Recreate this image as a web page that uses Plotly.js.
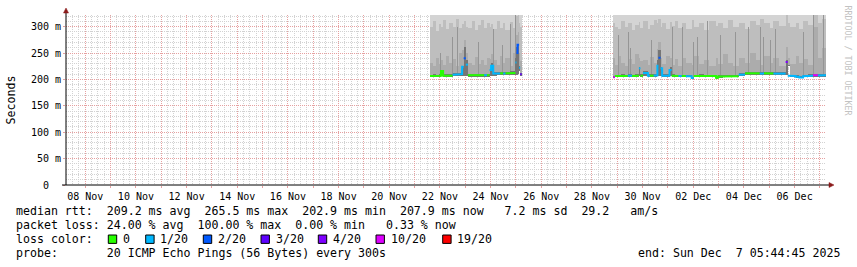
<!DOCTYPE html>
<html><head><meta charset="utf-8">
<script src="https://cdn.plot.ly/plotly-3.0.1.min.js"></script>
<style>html,body{margin:0;padding:0;background:#fff;}#chart{width:857px;height:267px;}</style>
</head><body><div id="chart"></div>
<script>
// ---------------- DATA ----------------
const rangeStart = '2025-11-07 05:44:45';
const rangeEnd   = '2025-12-07 05:44:45';

// segment 1 : step start times (last entry = end of last step)
const seg1Time = ['2025-11-21 14:36','2025-11-21 17:00','2025-11-21 20:00','2025-11-21 23:00','2025-11-22 01:00','2025-11-22 03:00','2025-11-22 06:00','2025-11-22 09:00','2025-11-22 12:00','2025-11-22 15:00','2025-11-22 18:00','2025-11-22 21:00','2025-11-22 22:30','2025-11-23 00:30','2025-11-23 02:30','2025-11-23 06:00','2025-11-23 09:00','2025-11-23 12:00','2025-11-23 15:00','2025-11-23 18:00','2025-11-23 20:30','2025-11-23 23:00','2025-11-24 00:30','2025-11-24 02:30','2025-11-24 06:00','2025-11-24 09:00','2025-11-24 12:00','2025-11-24 14:00','2025-11-24 18:00','2025-11-24 21:00','2025-11-24 23:30','2025-11-25 00:30','2025-11-25 01:30','2025-11-25 03:00','2025-11-25 04:00','2025-11-25 05:30'];
const seg1Med  = [206.5,207,206.5,207,216,207,207.5,207,209,209.5,210,224,240,228,208,207.5,208,207.5,208,208,208,218,226,211,211,211.5,211,211.5,212,212,232,250,265.5,222,210];
const seg1Loss = [0,0,0,0,0,0,0,0,1,1,1,1,2,1,0,0,0,0,0,1,0,1,1,1,1,0,1,0,0,0,1,2,2,1,3];
const seg1Lo   = [204,205,204,205,206,205,205,205,206,206,207,207,207,207,205,205,205,205,205,205,205,207,207,207,208,208,208,208,208,208,208,208,210,215,207];
const seg1D1   = [209,210,209,210,218,210,210,210,212,212,213,226,262,236,211,210,211,210,211,211,211,220,231,214,214,214,214,214,215,215,240,262,268,226,212];
const seg1D2   = [232,226,240,230,236,228,245,232,238,226,250,255,275,250,232,228,242,230,236,228,240,238,248,236,228,245,232,240,226,250,270,285,290,250,235];
const seg1D3   = [300,310,292,305,300,312,296,306,300,314,298,305,310,300,298,310,294,304,312,298,306,300,305,296,310,298,306,294,308,298,314,320,322,306,300];

// segment 2
const seg2Time = ['2025-11-28 20:15','2025-11-28 21:45','2025-11-29 01:00','2025-11-29 04:00','2025-11-29 07:00','2025-11-29 10:00','2025-11-29 14:00','2025-11-29 17:00','2025-11-29 20:30','2025-11-29 22:00','2025-11-30 00:30','2025-11-30 05:00','2025-11-30 07:00','2025-11-30 10:30','2025-11-30 14:00','2025-11-30 15:00','2025-11-30 17:00','2025-11-30 18:30','2025-11-30 22:00','2025-12-01 01:30','2025-12-01 03:30','2025-12-01 07:00','2025-12-01 10:00','2025-12-01 13:00','2025-12-01 17:00','2025-12-01 22:30','2025-12-02 00:30','2025-12-02 05:00','2025-12-02 10:00','2025-12-02 15:00','2025-12-02 21:30','2025-12-02 23:30','2025-12-03 04:00','2025-12-03 09:00','2025-12-03 14:00','2025-12-03 19:00','2025-12-04 01:00','2025-12-04 06:00','2025-12-04 11:00','2025-12-04 15:00','2025-12-04 19:00','2025-12-05 01:00','2025-12-05 04:00','2025-12-05 09:00','2025-12-05 15:30','2025-12-05 17:30','2025-12-05 19:30','2025-12-06 01:00','2025-12-06 04:30','2025-12-06 08:00','2025-12-06 13:00','2025-12-06 17:30','2025-12-06 22:00','2025-12-07 02:00','2025-12-07 05:44:45'];
const seg2Med  = [204,206.5,206.5,207,206.5,207,206.5,207,221,207,212,207,207,207.5,226,241,221,207,207,218,207,206.5,206.5,206.5,206,202.9,206.5,207,206.5,206.5,203,205.5,206,206,206,209,211.5,211.5,211.5,211,211.5,211,211,211,233,207,206.5,205,203.5,206,207,208,207.5,207.9];
const seg2Loss = [10,0,0,0,0,1,0,0,1,0,1,1,0,1,1,2,1,1,1,1,0,0,1,0,1,1,0,0,0,0,0,0,0,0,0,1,0,0,0,1,0,0,1,1,4,1,1,1,1,1,1,10,1,1];
const seg2Lo   = [203,204,204,205,204,205,204,205,206,205,206,205,205,205,206,206,206,205,205,206,205,204,204,204,204,201,204,205,204,204,201,203,204,204,204,206,208,208,208,208,208,208,208,208,208,226,204,203,202,204,205,205,205,205];
const seg2D1   = [206,209,209,210,209,210,209,210,224,210,215,210,210,210,236,256,224,210,210,224,210,209,209,209,209,205,209,210,209,209,206,208,209,209,209,212,214,214,214,214,214,214,214,214,236,228,209,208,206,209,210,211,210,210];
const seg2D2   = [240,228,245,232,226,238,230,248,240,234,236,228,242,232,258,270,240,230,245,240,228,238,226,240,232,228,245,230,236,226,240,230,248,232,226,240,232,250,236,228,244,232,240,226,262,240,230,245,232,238,228,300,240,260];
const seg2D3   = [306,300,296,310,300,306,294,304,308,298,310,296,304,312,306,314,300,306,296,308,302,310,298,306,296,312,300,306,294,310,302,306,298,312,300,306,296,310,304,314,306,298,310,302,322,306,300,306,296,310,304,322,306,314];

// highest pings lie above the top of the graph
const segTopMs = [340, 340];

// darker streaks in the smoke
const streakTime = ['2025-11-22 00:00','2025-11-22 11:00','2025-11-22 15:54','2025-11-23 12:06','2025-11-24 02:18','2025-11-24 10:30','2025-11-24 18:24','2025-11-24 23:06','2025-11-29 00:42','2025-11-29 10:00','2025-11-29 12:06','2025-11-30 07:30','2025-12-01 03:48','2025-12-01 13:30','2025-12-01 23:48','2025-12-02 03:30','2025-12-02 13:00','2025-12-03 01:18','2025-12-03 15:30','2025-12-04 03:48','2025-12-04 15:00','2025-12-04 18:00','2025-12-05 00:30','2025-12-05 05:24','2025-12-06 08:00','2025-12-06 17:24','2025-12-07 02:54'];
const streakLow  = [208,208,209,208,212,210,212,212,206,207,207,207,207,207,205,207,207,206,207,212,212,212,212,212,207,208,208];
const streakHigh = [250,280,300,270,296,265,305,322,285,290,260,275,300,300,270,280,310,285,290,300,300,280,275,296,290,322,322];

// loss legend
const lossLevels = [0,1,2,3,4,10,19];
const lossLabels = ['0','1/20','2/20','3/20','4/20','10/20','19/20'];
const lossColors = ['#26ff00','#00b8ff','#0059ff','#5e00ff','#7e00ff','#dd00ff','#ff0000'];

const yTickVals = [0,50,100,150,200,250,300];
const yTickText = ['0\u00a0\u00a0','50\u00a0m','100\u00a0m','150\u00a0m','200\u00a0m','250\u00a0m','300\u00a0m'];

const statLines = [
  'median rtt:  209.2 ms avg  265.5 ms max  202.9 ms min  207.9 ms now   7.2 ms sd  29.2   am/s',
  'packet loss: 24.00 % avg  100.00 % max  0.00 % min   0.33 % now',
  'loss color:',
  'probe:       20 ICMP Echo Pings (56 Bytes) every 300s'
];
const endText = 'end: Sun Dec  7 05:44:45 2025';
const watermark = 'RRDTOOL / TOBI OETIKER';

// ---------------- GEOMETRY ----------------
const PL = 66, PR = 826, PT = 15, PB = 185;
const px = x => (x - PL) / (PR - PL);
const py = y => (PB - y) / (PB - PT);
const MONO = 'DejaVu Sans Mono';

function toMs(s){
  const [d,t] = s.split(' ');
  const [Y,M,D] = d.split('-').map(Number);
  const tp = t.split(':').map(Number);
  return Date.UTC(Y, M-1, D, tp[0], tp[1], tp[2]||0);
}
function lossColor(l){
  let c = lossColors[0];
  for (let i=0;i<lossLevels.length;i++) if (l >= lossLevels[i]) c = lossColors[i];
  return c;
}

const traces = [];
function band(times, lo, hi, color){
  const n = lo.length;
  const x=[], base=[], h=[], w=[];
  for (let i=0;i<n;i++){
    const top = Array.isArray(hi) ? hi[i] : hi;
    x.push(times[i]); base.push(lo[i]); h.push(Math.max(0, top-lo[i]));
    w.push(toMs(times[i+1]) - toMs(times[i]));
  }
  traces.push({type:'bar', x, y:h, base, width:w, offset:0,
    marker:{color, line:{width:0}}, hoverinfo:'skip'});
}
const segs = [
  {t:seg1Time, m:seg1Med, l:seg1Loss, lo:seg1Lo, d1:seg1D1, d2:seg1D2, d3:seg1D3, top:segTopMs[0]},
  {t:seg2Time, m:seg2Med, l:seg2Loss, lo:seg2Lo, d1:seg2D1, d2:seg2D2, d3:seg2D3, top:segTopMs[1]}
];
segs.forEach(s => band(s.t, s.lo, s.top, '#d4d4d4'));
segs.forEach(s => band(s.t, s.lo, s.d3, '#bebebe'));
segs.forEach(s => band(s.t, s.lo, s.d2, '#acacac'));
traces.push({type:'bar', x:streakTime, base:streakLow,
  y:streakHigh.map((h,i)=>h-streakLow[i]), width:3600000, offset:0,
  marker:{color:'#959595', line:{width:0}}, hoverinfo:'skip'});
segs.forEach(s => band(s.t, s.lo, s.d1, '#767676'));

// median line, coloured by loss
lossColors.forEach(col => {
  const x=[], y=[];
  segs.forEach(s => {
    for (let i=0;i<s.m.length;i++){
      if (lossColor(s.l[i]) === col){
        x.push(s.t[i], s.t[i+1]); y.push(s.m[i], s.m[i]);
        const nextSame = i+1 < s.m.length && lossColor(s.l[i+1]) === col;
        if (!nextSame){ x.push(null); y.push(null); }
      }
    }
  });
  if (x.length) traces.push({type:'scatter', mode:'lines', x, y,
    line:{color:col, width:2}, connectgaps:false, hoverinfo:'skip'});
});

// ---------------- LAYOUT ----------------
const RED = '#e6a0a0', GRAY = '#d2d2d2';
const annotations = [];
const lineY = [211, 225.3, 239.3, 253.3];
statLines.forEach((s,i) => annotations.push({
  xref:'paper', yref:'paper', x:px(15.5), y:py(lineY[i]), xanchor:'left', yanchor:'middle',
  text:s.replace(/ /g,'\u00a0'), showarrow:false, borderpad:0, borderwidth:0,
  font:{family:MONO, size:11.6, color:'#000'}}));
annotations.push({xref:'paper', yref:'paper', x:px(637.5), y:py(lineY[3]), xanchor:'left', yanchor:'middle',
  text:endText.replace(/ /g,'\u00a0'), showarrow:false, borderpad:0, borderwidth:0,
  font:{family:MONO, size:11.6, color:'#000'}});
annotations.push({xref:'paper', yref:'paper', x:px(847.5), y:py(60), xanchor:'center', yanchor:'middle',
  text:watermark.replace(/ /g,'\u00a0'), textangle:90, showarrow:false, borderpad:0, borderwidth:0,
  font:{family:MONO, size:8.3, color:'#c2c2c2'}});

const shapes = [];
const boxX = [108.3, 145.7, 203.3, 261, 318.3, 376, 442.7];
lossLabels.forEach((lab,i) => {
  shapes.push({type:'rect', xref:'paper', yref:'paper',
    x0:px(boxX[i]), x1:px(boxX[i]+8.4), y0:py(243.4), y1:py(235),
    fillcolor:lossColors[i], line:{color:'#000', width:1}});
  annotations.push({xref:'paper', yref:'paper', x:px(boxX[i]+14.5), y:py(lineY[2]), xanchor:'left', yanchor:'middle',
    text:lab, showarrow:false, borderpad:0, borderwidth:0, font:{family:MONO, size:11.6, color:'#000'}});
});
// axis extensions + arrows
shapes.push({type:'line', xref:'paper', yref:'paper', x0:px(66), x1:px(66), y0:py(185), y1:py(11), line:{color:'#000', width:1}});
shapes.push({type:'line', xref:'paper', yref:'paper', x0:px(62), x1:px(830), y0:py(185), y1:py(185), line:{color:'#000', width:1}});
shapes.push({type:'path', xref:'paper', yref:'paper',
  path:`M ${px(63.5)},${py(13)} L ${px(68.5)},${py(13)} L ${px(66)},${py(8)} Z`,
  fillcolor:'#8b1a1a', line:{color:'#8b1a1a', width:0.5}});
shapes.push({type:'path', xref:'paper', yref:'paper',
  path:`M ${px(829)},${py(182.5)} L ${px(829)},${py(187.5)} L ${px(834)},${py(185)} Z`,
  fillcolor:'#8b1a1a', line:{color:'#8b1a1a', width:0.5}});

const layout = {
  width:857, height:267,
  margin:{l:PL, r:857-PR, t:PT, b:267-PB, pad:0},
  paper_bgcolor:'#fff', plot_bgcolor:'#fff',
  showlegend:false, barmode:'overlay', bargap:0,
  font:{family:MONO, size:10, color:'#000'},
  xaxis:{type:'date', range:[rangeStart, rangeEnd], tickmode:'linear', tick0:'2025-11-08', dtick:86400000,
    ticklabelstep:2, tickformat:'%d %b', ticklabelshift:12.7,
    showgrid:true, gridcolor:RED, griddash:'1px,1px', gridwidth:1,
    minor:{tickmode:'linear', tick0:'2025-11-08', dtick:21600000, showgrid:true, gridcolor:GRAY, griddash:'1px,1px', gridwidth:1},
    showline:false, zeroline:false, ticks:'outside', ticklen:2, tickcolor:RED,
    tickfont:{family:MONO, size:10, color:'#000'}, fixedrange:true},
  yaxis:{range:[0,322], tickmode:'array', tickvals:yTickVals, ticktext:yTickText,
    showgrid:true, gridcolor:RED, griddash:'1px,1px', gridwidth:1,
    minor:{tickmode:'linear', tick0:0, dtick:10, showgrid:true, gridcolor:GRAY, griddash:'1px,1px', gridwidth:1},
    showline:false, zeroline:false, ticks:'outside', ticklen:2, tickcolor:RED,
    tickfont:{family:MONO, size:10, color:'#000'},
    title:{text:'Seconds', font:{family:MONO, size:11.6, color:'#000'}, standoff:12}, fixedrange:true},
  annotations, shapes
};
Plotly.newPlot('chart', traces, layout, {staticPlot:true, displayModeBar:false});
</script></body></html>
